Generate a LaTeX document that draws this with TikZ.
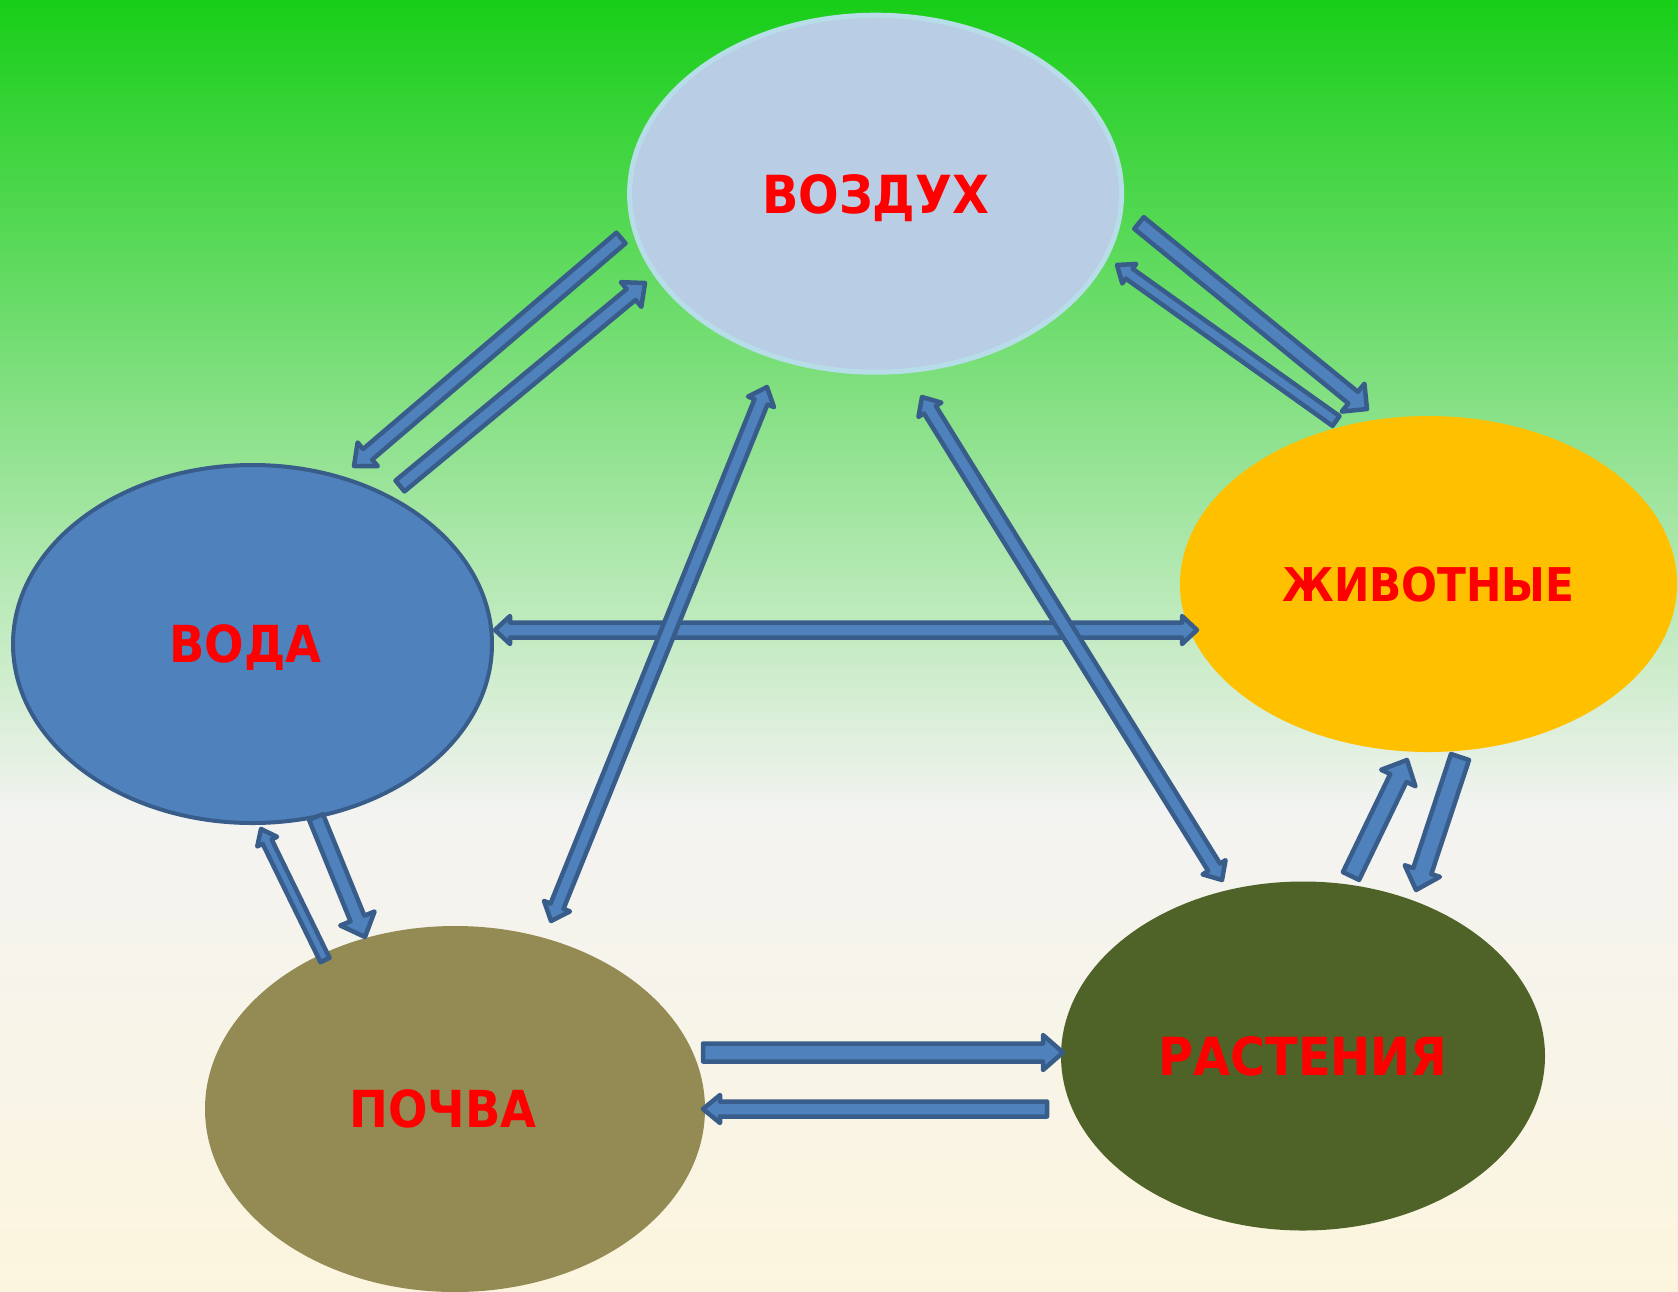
\documentclass[tikz,border=0pt]{standalone}
\usepackage{fontspec}
\setmainfont{DejaVu Sans}[FakeStretch=0.91]
\usetikzlibrary{shapes.geometric,calc}

\definecolor{vozfill}{HTML}{B9CDE5}
\definecolor{vozline}{HTML}{B7DEE8}
\definecolor{vodafill}{HTML}{4F81BD}
\definecolor{temnomodra}{HTML}{385D8A}
\definecolor{zivfill}{HTML}{FFC000}
\definecolor{rastfill}{HTML}{4F6228}
\definecolor{pochfill}{HTML}{948A54}
\definecolor{bgtop}{RGB}{24,206,24}
\definecolor{bgmid}{RGB}{243,243,241}
\definecolor{bgbot}{RGB}{252,245,222}

\tikzset{
  krog/.style={ellipse, inner sep=0pt},
  napis/.style={text=red, inner sep=0pt, text depth=0pt},
  puscica/.style={fill=vodafill, draw=temnomodra, line width=4.5pt, line join=round}
}

% rep, glava, dolzina glave
\newcommand{\blokpuscica}[5]{%
  \coordinate (bh) at ($(#2)!#5!(#1)$);
  \draw[puscica] ($(#1)!#3!90:(#2)$) -- ($(bh)!#3!-90:(#1)$) -- ($(bh)!#4!-90:(#1)$) -- (#2)
    -- ($(bh)!#4!90:(#1)$) -- ($(bh)!#3!90:(#1)$) -- ($(#1)!#3!-90:(#2)$) -- cycle;
}
\newcommand{\dvojnapuscica}[5]{%
  \coordinate (bh1) at ($(#1)!#5!(#2)$);
  \coordinate (bh2) at ($(#2)!#5!(#1)$);
  \draw[puscica] (#1) -- ($(bh1)!#4!90:(#2)$) -- ($(bh1)!#3!90:(#2)$) -- ($(bh2)!#3!-90:(#1)$)
    -- ($(bh2)!#4!-90:(#1)$) -- (#2) -- ($(bh2)!#4!90:(#1)$) -- ($(bh2)!#3!90:(#1)$)
    -- ($(bh1)!#3!-90:(#2)$) -- ($(bh1)!#4!-90:(#2)$) -- cycle;
}

\begin{document}
\begin{tikzpicture}[x=1pt,y=-1pt]
\useasboundingbox (0,0) rectangle (1678,1291);

% ozadje
\shade[top color=bgtop, bottom color=bgmid] (0,0) rectangle (1678,810);
\shade[top color=bgmid, bottom color=bgbot] (0,809) rectangle (1678,1291);

\node[krog, fill=vozfill, draw=vozline, line width=5pt, minimum width=492pt, minimum height=357pt] (vozduh) at (875.6,193.7) {};
\node[krog, fill=vodafill, draw=temnomodra, line width=4pt, minimum width=479pt, minimum height=358pt] (voda) at (252.5,644) {};
\node[krog, fill=zivfill, minimum width=497pt, minimum height=336pt] (zhivotnye) at (1428.5,584) {};
\node[krog, fill=rastfill, minimum width=484pt, minimum height=349pt] (rastenija) at (1303,1056) {};
\node[krog, fill=pochfill, minimum width=500pt, minimum height=366pt] (pochva) at (455,1109) {};

\node[napis, font=\fontsize{52.5}{60}\selectfont\bfseries] at (vozduh) {ВОЗДУХ};
\node[napis, font=\fontsize{51}{60}\selectfont\bfseries, xshift=-7pt] at (voda) {ВОДА};
\node[napis, font=\fontsize{46.5}{55}\selectfont\bfseries] at (zhivotnye) {ЖИВОТНЫЕ};
\node[napis, font=\fontsize{52.5}{60}\selectfont\bfseries] at (rastenija) {РАСТЕНИЯ};
\node[napis, font=\fontsize{51}{58}\selectfont\bfseries, xshift=-12pt] at (pochva) {ПОЧВА};

% konci puscic
\coordinate (a1) at (621,238);   \coordinate (a1k) at (354,466);
\coordinate (a2) at (400,486);   \coordinate (a2k) at (645,283);
\coordinate (a3) at (1139,223);  \coordinate (a3k) at (1367,409);
\coordinate (a4) at (1336,421);  \coordinate (a4k) at (1117,265);
\coordinate (a5) at (495,630);   \coordinate (a5k) at (1197,630);
\coordinate (a6) at (767,387);   \coordinate (a6k) at (551,921);
\coordinate (a7) at (922,397);   \coordinate (a7k) at (1222,880);
\coordinate (a8) at (316,817);   \coordinate (a8k) at (365,937);
\coordinate (a9) at (325,960);   \coordinate (a9k) at (261,829);
\coordinate (a10) at (1351,876); \coordinate (a10k) at (1407,760);
\coordinate (a11) at (1460,757); \coordinate (a11k) at (1416,890);
\coordinate (a12) at (703,1052.5); \coordinate (a12k) at (1063,1052.5);
\coordinate (a13) at (1047,1109);  \coordinate (a13k) at (703,1109);

\foreach \z/\k/\r/\g/\d in {a1/a1k/7pt/15.5pt/18pt, a2/a2k/7pt/16pt/18pt,
  a3/a3k/7.5pt/18pt/18pt, a4/a4k/6pt/12pt/15pt, a8/a8k/7.5pt/18.5pt/20pt,
  a9/a9k/5pt/11pt/14pt, a10/a10k/9pt/19pt/20pt, a11/a11k/9.5pt/18.5pt/20pt,
  a12/a12k/9pt/17.5pt/20pt, a13/a13k/7.5pt/14pt/17pt}
  \blokpuscica{\z}{\k}{\r}{\g}{\d};

\foreach \z/\k/\r/\g/\d in {a5/a5k/7.5pt/14pt/15pt, a6/a6k/7pt/14pt/16pt, a7/a7k/7pt/13.5pt/15pt}
  \dvojnapuscica{\z}{\k}{\r}{\g}{\d};
\end{tikzpicture}
\end{document}
